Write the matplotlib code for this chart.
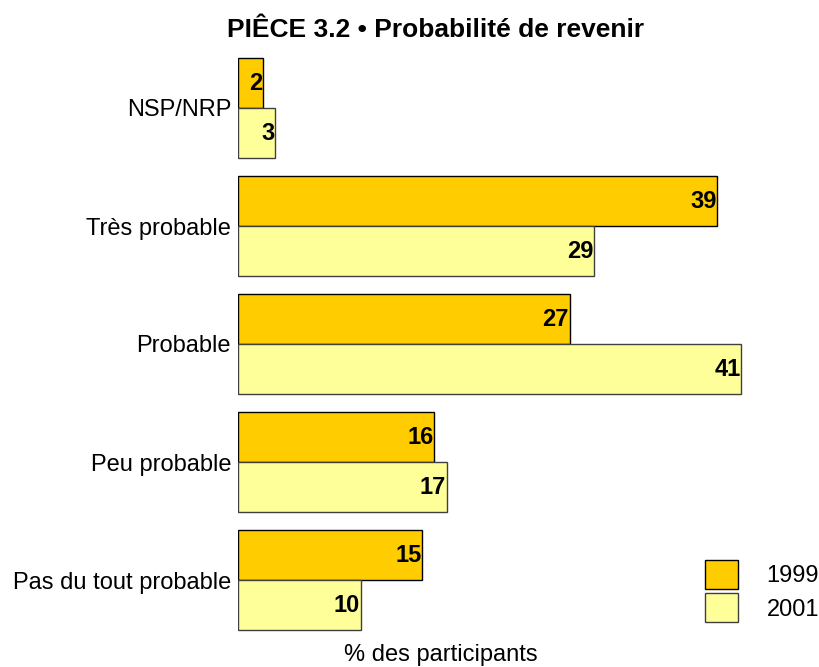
import matplotlib.pyplot as plt
import numpy as np
from matplotlib.patches import Patch

plt.rcParams['font.family'] = ['Liberation Sans', 'DejaVu Sans']

# data
categories = ["NSP/NRP", "Très probable", "Probable", "Peu probable", "Pas du tout probable"]
values_1999 = [2, 39, 27, 16, 15]
values_2001 = [3, 29, 41, 17, 10]
series_names = ["1999", "2001"]
colors = ["#FFCC00", "#FFFF99"]
edge_colors = ["#000000", "#404040"]

fig = plt.figure(figsize=(8.2, 6.67), dpi=100)
ax = fig.add_axes([238 / 820, 1 - 639 / 667, 552.6 / 820, 590 / 667])

y = np.arange(len(categories))
h = 50 / 118

for k, vals in enumerate([values_1999, values_2001]):
    pos = y - h / 2 + k * h
    bars = ax.barh(pos, vals, height=h, color=colors[k], edgecolor=edge_colors[k],
                   linewidth=1.0, label=series_names[k])
    for b, v in zip(bars, vals):
        ax.text(b.get_width() - 0.05, b.get_y() + b.get_height() / 2, str(v),
                ha="right", va="center", fontsize=17, fontweight="bold")

ax.set_xlim(0, 45)
ax.set_ylim(len(categories) - 0.5, -0.5)
ax.set_yticks(y)
ax.set_yticklabels(categories, fontsize=17)
ax.tick_params(axis="y", length=0, pad=5)
ax.set_xticks([])
for s in ax.spines.values():
    s.set_visible(False)

fig.text(441 / 820, 1 - 655 / 667, "% des participants", ha="center", va="center", fontsize=17)
fig.text(436 / 820, 1 - 30 / 667, "PIÊCE 3.2 • Probabilité de revenir",
         ha="center", va="center", fontsize=19, fontweight="bold")

handles = [Patch(facecolor=colors[i], edgecolor=edge_colors[i], label=series_names[i]) for i in range(2)]
fig.legend(handles=handles, loc="center", bbox_to_anchor=(762 / 820, 1 - 591 / 667),
           frameon=False, fontsize=17, handlelength=1.4, handleheight=1.5,
           handletextpad=1.2, labelspacing=0.2)

fig.savefig("out.png", dpi=100)
